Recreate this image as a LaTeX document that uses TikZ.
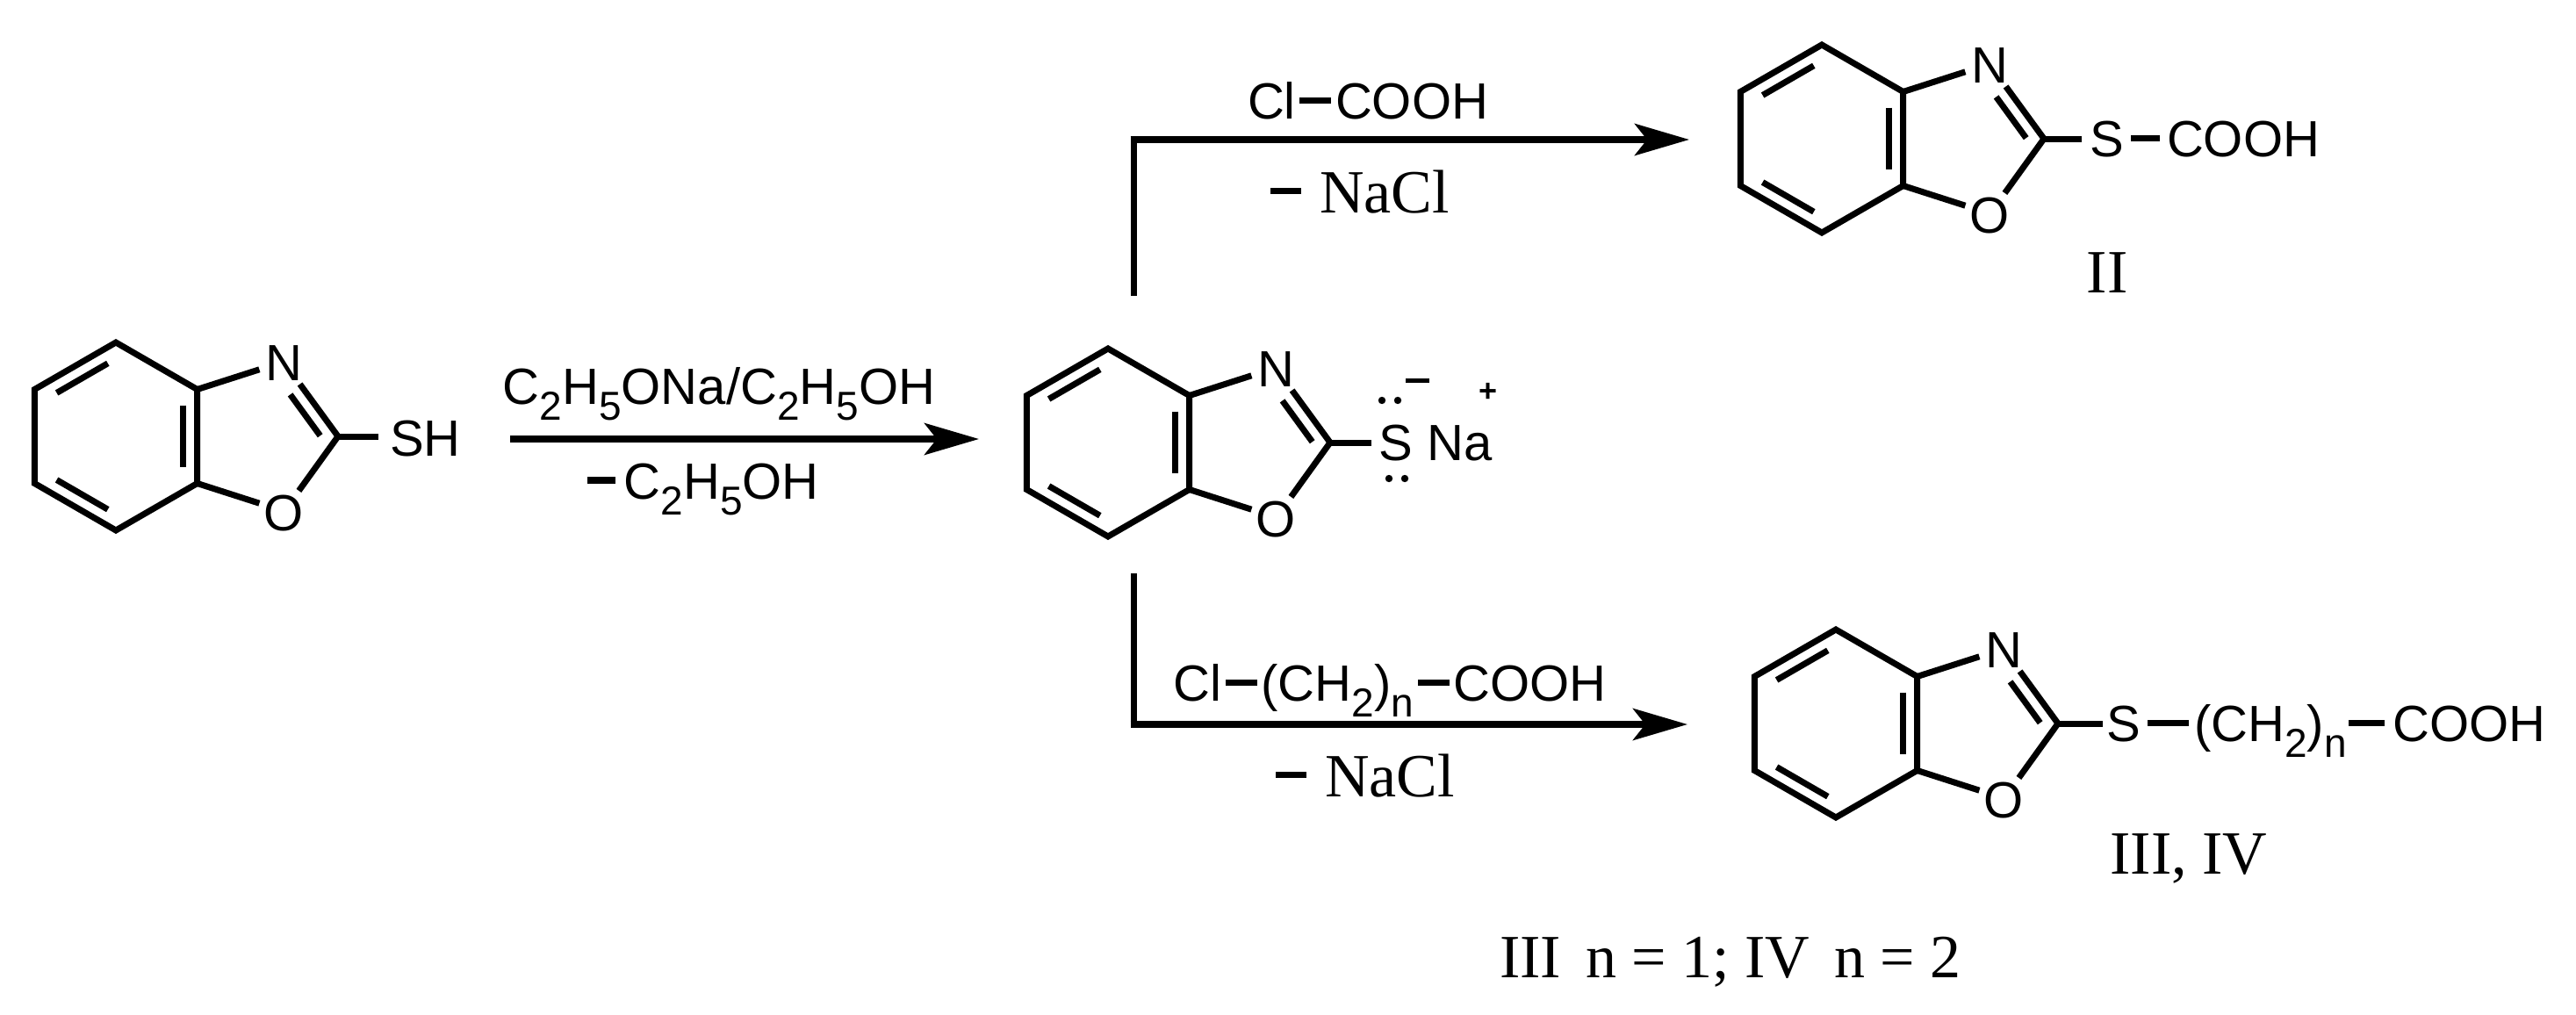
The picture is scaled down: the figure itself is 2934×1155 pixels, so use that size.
\documentclass[tikz,border=0pt]{standalone}
\usepackage{fontspec}
\setmainfont{Liberation Serif}
\setsansfont{Liberation Sans}
\usetikzlibrary{calc,arrows.meta}
\newcommand\chsub[1]{\raisebox{-0.32em}{\fontsize{46bp}{46bp}\selectfont #1}}
\newcommand\bnd{\hspace{0.08em}\rule[0.3em]{0.62em}{7bp}\hspace{0.08em}}
\newcommand\bzx[3]{%
 \begin{scope}[shift={(#1,#2)}]
  \draw[bond,line join=miter] (0,-107) -- (-92.66,-53.5) -- (-92.66,53.5) -- (0,107) -- (92.66,53.5) -- (92.66,-53.5) -- cycle;
  \draw[bond] ($(0,-88.5)!0.12!(-76.6,-44.25)$) -- ($(0,-88.5)!0.88!(-76.6,-44.25)$);
  \draw[bond] ($(0,88.5)!0.12!(-76.6,44.25)$) -- ($(0,88.5)!0.88!(-76.6,44.25)$);
  \draw[bond] ($(76.6,-44.25)!0.1!(76.6,44.25)$) -- ($(76.6,-44.25)!0.9!(76.6,44.25)$);
  \node[atom] (#3N) at (191,-64) {N};
  \node[atom] (#3O) at (191,107) {O};
  \coordinate (#3C) at (253,0);
  \draw[bond] (92.66,-53.5) -- (163.4,-76.2);
  \draw[bond] (92.66,53.5) -- (163.4,76.2);
  \draw[bond] (209.6,-59.5) -- (#3C) -- (208.4,61.9);
  \draw[bond] (198.6,-47.6) -- (232.7,-0.8);
 \end{scope}}
\begin{document}
\begin{tikzpicture}[x=1bp,y=-1bp,
  bond/.style={line width=7bp,line cap=butt},
  atom/.style={font=\sffamily\fontsize{58bp}{58bp}\selectfont,inner sep=0pt,anchor=base},
  serif/.style={font=\rmfamily\fontsize{70bp}{70bp}\selectfont,inner sep=0pt,anchor=base},
  rxn/.style={line width=7.5bp,-{Stealth[length=62bp,width=36bp,inset=14bp]}}]
\fill[white] (0,0) rectangle (2934,1155);
\useasboundingbox (0,0) rectangle (2934,1155);
% molecule I
\bzx{132}{497}{a}
\node[atom,anchor=base west] (aSH) at (444,519) {SH};
\draw[bond] (aC) -- ($(aC)+(46,0)$);
% first arrow
\coordinate (r1s) at (581,500);
\coordinate (r1e) at (1115,500);
\draw[rxn] (r1s) -- (r1e);
\node[atom] (r1t) at (819,460) {C\chsub{2}H\chsub{5}ONa/C\chsub{2}H\chsub{5}OH};
\node[atom] (r1b) at (801,568) {\rule[0.3em]{0.55em}{8bp}\,C\chsub{2}H\chsub{5}OH};
% molecule salt
\bzx{1262}{504}{b}
\node[atom] (bS) at (1590,524) {S};
\draw[bond] (bC) -- ($(bC)+(47,0)$);
\node[atom] (bNa) at (1663,524) {Na};
\draw[line width=5bp] (1601,433) -- (1628,433);
\node[font=\sffamily\bfseries\fontsize{36bp}{36bp}\selectfont,inner sep=0pt] (bplus) at (1695,447) {+};
\foreach \p in {(1574,456),(1592,456),(1582,545),(1600,545)} \fill \p circle (4.2);
% branches
\coordinate (up0) at (1291,337);
\coordinate (up1) at (1291,159);
\coordinate (upE) at (1924,159);
\draw[line width=7bp] (up0) -- (up1);
\draw[rxn] ($(up1)+(-3.5,0)$) -- (upE);
\node[atom] (r2t) at (1558,135) {Cl\bnd COOH};
\node[serif] (r2b) at (1549,242) {\rule[0.3em]{0.5em}{7bp}\hspace{0.3em}NaCl};
\coordinate (dn0) at (1291,653);
\coordinate (dn1) at (1291,825);
\coordinate (dnE) at (1922,825);
\draw[line width=7bp] (dn0) -- (dn1);
\draw[rxn] ($(dn1)+(-3.5,0)$) -- (dnE);
\node[atom] (r3t) at (1583,798) {Cl\bnd(CH\chsub{2})\chsub{n}\bnd COOH};
\node[serif] (r3b) at (1555,907) {\rule[0.3em]{0.5em}{7bp}\hspace{0.3em}NaCl};
% molecule II
\bzx{2075}{158}{c}
\draw[bond] (cC) -- ($(cC)+(43,0)$);
\node[atom] (cS) at (2400,178) {S};
\draw[bond] (2427,157) -- (2460,157);
\node[atom] (cR) at (2555,178) {COOH};
\node[serif] (cL) at (2400,333) {II};
% molecule III
\bzx{2091}{824}{d}
\draw[bond] (dC) -- ($(dC)+(51,0)$);
\node[atom] (dS) at (2419,844) {S};
\draw[bond] (2446,823) -- (2493,823);
\node[atom,anchor=base west] (dR) at (2499,844) {(CH\chsub{2})\chsub{n}};
\draw[bond] (2675,823) -- (2716,823);
\node[atom,anchor=base west] (dR2) at (2725,844) {COOH};
\node[serif] (dL) at (2493,995) {III, IV};
\node[serif] (nn) at (1971,1113) {III\hspace{0.4em}n = 1; IV\hspace{0.4em}n = 2};
\end{tikzpicture}
\end{document}
